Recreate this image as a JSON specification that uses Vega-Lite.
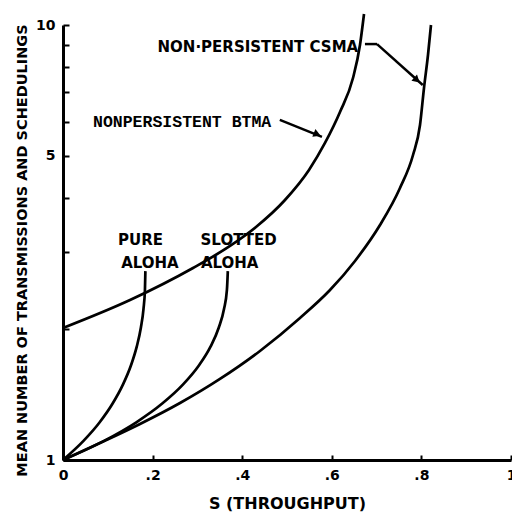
{
  "$schema": "https://vega.github.io/schema/vega-lite/v6.json",
  "width": 448,
  "height": 435,
  "autosize": {"type": "none"},
  "padding": {"left": 63, "top": 25, "right": 1, "bottom": 54},
  "background": "white",
  "config": {
    "view": {"stroke": null},
    "font": "DejaVu Sans",
    "axis": {
      "domainColor": "black",
      "domainWidth": 3,
      "tickColor": "black",
      "tickWidth": 2,
      "grid": false,
      "labelFont": "DejaVu Sans",
      "labelFontWeight": "bold",
      "labelFontSize": 14,
      "labelColor": "black",
      "titleFont": "DejaVu Sans",
      "titleFontWeight": "bold",
      "titleColor": "black",
      "labelOverlap": false,
      "labelFlush": false
    }
  },
  "datasets": {
    "curves": [
      {"curve": "pure", "s": 0, "n": 1},
      {"curve": "pure", "s": 0.0452, "n": 1.105},
      {"curve": "pure", "s": 0.0819, "n": 1.221},
      {"curve": "pure", "s": 0.1111, "n": 1.35},
      {"curve": "pure", "s": 0.134, "n": 1.492},
      {"curve": "pure", "s": 0.1516, "n": 1.649},
      {"curve": "pure", "s": 0.1646, "n": 1.822},
      {"curve": "pure", "s": 0.1738, "n": 2.014},
      {"curve": "pure", "s": 0.1797, "n": 2.226},
      {"curve": "pure", "s": 0.1829, "n": 2.46},
      {"curve": "pure", "s": 0.1839, "n": 2.718},
      {"curve": "slotted", "s": 0, "n": 1},
      {"curve": "slotted", "s": 0.0905, "n": 1.105},
      {"curve": "slotted", "s": 0.1637, "n": 1.221},
      {"curve": "slotted", "s": 0.2222, "n": 1.35},
      {"curve": "slotted", "s": 0.2681, "n": 1.492},
      {"curve": "slotted", "s": 0.3033, "n": 1.649},
      {"curve": "slotted", "s": 0.3293, "n": 1.822},
      {"curve": "slotted", "s": 0.3476, "n": 2.014},
      {"curve": "slotted", "s": 0.3595, "n": 2.226},
      {"curve": "slotted", "s": 0.3659, "n": 2.46},
      {"curve": "slotted", "s": 0.3679, "n": 2.718},
      {"curve": "btma", "s": 0, "n": 2.011},
      {"curve": "btma", "s": 0.1496, "n": 2.332},
      {"curve": "btma", "s": 0.2902, "n": 2.763},
      {"curve": "btma", "s": 0.3728, "n": 3.105},
      {"curve": "btma", "s": 0.4308, "n": 3.433},
      {"curve": "btma", "s": 0.4955, "n": 3.96},
      {"curve": "btma", "s": 0.5491, "n": 4.642},
      {"curve": "btma", "s": 0.5848, "n": 5.356},
      {"curve": "btma", "s": 0.6183, "n": 6.31},
      {"curve": "btma", "s": 0.6473, "n": 7.553},
      {"curve": "btma", "s": 0.6629, "n": 8.995},
      {"curve": "btma", "s": 0.6719, "n": 10.6},
      {"curve": "csma", "s": 0, "n": 1},
      {"curve": "csma", "s": 0.0826, "n": 1.094},
      {"curve": "csma", "s": 0.1719, "n": 1.21},
      {"curve": "csma", "s": 0.2612, "n": 1.352},
      {"curve": "csma", "s": 0.3504, "n": 1.536},
      {"curve": "csma", "s": 0.4397, "n": 1.781},
      {"curve": "csma", "s": 0.529, "n": 2.121},
      {"curve": "csma", "s": 0.596, "n": 2.459},
      {"curve": "csma", "s": 0.6518, "n": 2.868},
      {"curve": "csma", "s": 0.7076, "n": 3.469},
      {"curve": "csma", "s": 0.7522, "n": 4.22},
      {"curve": "csma", "s": 0.7813, "n": 5.025},
      {"curve": "csma", "s": 0.7969, "n": 5.891},
      {"curve": "csma", "s": 0.8058, "n": 7.165},
      {"curve": "csma", "s": 0.8147, "n": 8.531},
      {"curve": "csma", "s": 0.8214, "n": 10}
    ],
    "arrows": [
      {"s": 0.674, "n": 9.04, "s2": 0.701, "n2": 9.04},
      {"s": 0.701, "n": 9.04, "s2": 0.803, "n2": 7.28},
      {"s": 0.484, "n": 6.05, "s2": 0.578, "n2": 5.53}
    ],
    "heads": [
      {"s": 0.788, "n": 7.5, "dir": 132},
      {"s": 0.565, "n": 5.62, "dir": 112}
    ],
    "labels": [
      {"s": 0.435, "n": 8.9, "text": "NON·PERSISTENT CSMA"},
      {"s": 0.173, "n": 3.2, "text": "PURE"},
      {"s": 0.194, "n": 2.84, "text": "ALOHA"},
      {"s": 0.392, "n": 3.2, "text": "SLOTTED"},
      {"s": 0.372, "n": 2.84, "text": "ALOHA"}
    ],
    "monolabels": [
      {"s": 0.067, "n": 5.98, "text": "NONPERSISTENT BTMA"}
    ]
  },
  "layer": [
    {
      "data": {"name": "curves"},
      "mark": {"type": "line", "color": "black", "strokeWidth": 2.7, "interpolate": "monotone"},
      "encoding": {
        "x": {
          "field": "s", "type": "quantitative",
          "scale": {"domain": [0, 1], "nice": false},
          "axis": {
            "values": [0, 0.2, 0.4, 0.6, 0.8, 1],
            "format": ".1~f",
            "labelExpr": "replace(datum.label, '0.', '.')",
            "tickSize": -5,
            "labelPadding": 13,
            "title": "S (THROUGHPUT)",
            "titleFontSize": 16,
            "titlePadding": 13
          }
        },
        "y": {
          "field": "n", "type": "quantitative",
          "scale": {"type": "log", "domain": [1, 10], "nice": false},
          "axis": {
            "values": [1, 2, 3, 4, 5, 6, 7, 8, 9, 10],
            "format": "d",
            "labelExpr": "datum.value == 1 || datum.value == 5 || datum.value == 10 ? datum.label : ''",
            "tickSize": -6,
            "labelPadding": 14,
            "title": "MEAN NUMBER OF TRANSMISSIONS AND SCHEDULINGS",
            "titleFontSize": 14.5,
            "titlePadding": 6,
            "titleY": 225
          }
        },
        "detail": {"field": "curve"}
      }
    },
    {
      "data": {"name": "arrows"},
      "mark": {"type": "rule", "color": "black", "strokeWidth": 2.5},
      "encoding": {
        "x": {"field": "s", "type": "quantitative"},
        "y": {"field": "n", "type": "quantitative"},
        "x2": {"field": "s2"},
        "y2": {"field": "n2"}
      }
    },
    {
      "data": {"name": "heads"},
      "mark": {"type": "point", "shape": "triangle", "filled": true, "color": "black", "size": 70, "opacity": 1},
      "encoding": {
        "x": {"field": "s", "type": "quantitative"},
        "y": {"field": "n", "type": "quantitative"},
        "angle": {"field": "dir", "type": "quantitative", "scale": null}
      }
    },
    {
      "data": {"name": "labels"},
      "mark": {"type": "text", "font": "DejaVu Sans", "fontWeight": "bold", "fontSize": 15, "color": "black", "baseline": "middle", "align": "center"},
      "encoding": {
        "x": {"field": "s", "type": "quantitative"},
        "y": {"field": "n", "type": "quantitative"},
        "text": {"field": "text"}
      }
    },
    {
      "data": {"name": "monolabels"},
      "mark": {"type": "text", "font": "Liberation Mono", "fontWeight": "bold", "fontSize": 16.5, "color": "black", "baseline": "middle", "align": "left"},
      "encoding": {
        "x": {"field": "s", "type": "quantitative"},
        "y": {"field": "n", "type": "quantitative"},
        "text": {"field": "text"}
      }
    }
  ]
}
